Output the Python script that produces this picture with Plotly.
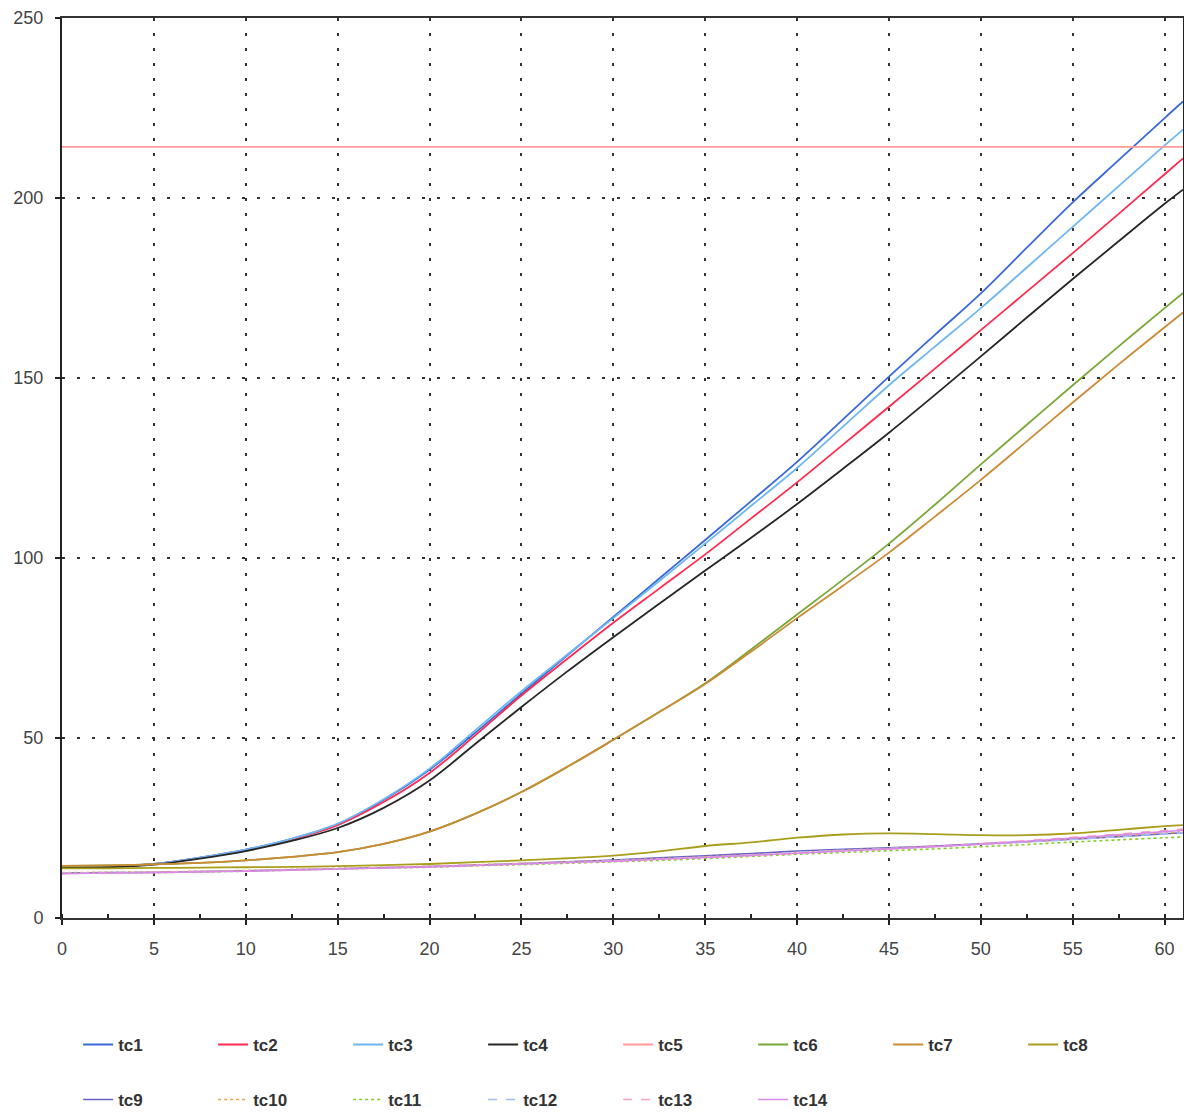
import plotly.graph_objects as go

# Time axis (samples every 2.5 units, last at 61)
x_vals = [0, 2.5, 5, 7.5, 10, 12.5, 15, 17.5, 20, 22.5, 25, 27.5, 30, 32.5,
          35, 37.5, 40, 42.5, 45, 47.5, 50, 52.5, 55, 57.5, 60, 61]

tc1 = [14, 14.2, 15, 16.8, 19, 22, 26, 32.8, 41.2, 51.5, 62.3, 73, 83.6, 94.3,
       105, 115.8, 126.7, 138.5, 150.4, 162, 173.5, 186.2, 198.8, 210.5, 222.2, 226.8]
tc2 = [14, 14.2, 15, 16.7, 18.9, 21.8, 25.8, 32.2, 40.3, 50.8, 61.8, 72, 82, 91.5,
       101, 111, 121, 131.5, 142, 152.6, 163.3, 174, 184.7, 195.6, 206.6, 211]
tc3 = [14, 14.2, 15, 16.8, 19, 22, 26.2, 33, 41.5, 52.2, 63, 73.2, 83.3, 93.6,
       104, 114.5, 125, 136.5, 148, 158.7, 169.4, 180.7, 192, 203.3, 214.6, 219]
tc4 = [14, 14.1, 14.8, 16.5, 18.6, 21.4, 25, 30.6, 38.2, 48.4, 58.6, 68.5, 78, 87.3,
       96.5, 105.6, 115, 124.8, 134.8, 145.3, 156, 166.8, 177.5, 188, 198.4, 202.3]
tc5 = [214.2, 214.2, 214.2, 214.2, 214.2, 214.2, 214.2, 214.2, 214.2, 214.2, 214.2, 214.2, 214.2, 214.2,
       214.2, 214.2, 214.2, 214.2, 214.2, 214.2, 214.2, 214.2, 214.2, 214.2, 214.2, 214.2]
tc6 = [14.5, 14.6, 14.9, 15.3, 16, 17, 18.3, 20.6, 24, 29, 35, 42, 49.5, 57.2,
       65.2, 74.6, 84.3, 94, 104, 114.8, 126, 137, 148, 158.8, 169.4, 173.6]
tc7 = [14.5, 14.6, 14.9, 15.3, 16, 17, 18.3, 20.6, 24, 29, 35, 42, 49.5, 57.2,
       65, 74, 83.3, 92.3, 101.5, 111.5, 121.7, 132.4, 143.2, 153.8, 164.1, 168.2]
tc8 = [13.8, 13.8, 13.9, 14, 14.1, 14.2, 14.4, 14.7, 15, 15.5, 16, 16.6, 17.3, 18.5,
       20, 21, 22.3, 23.2, 23.5, 23.3, 23, 23, 23.5, 24.5, 25.5, 25.8]
tc9 = [12.5, 12.6, 12.7, 12.9, 13.1, 13.4, 13.7, 14, 14.3, 14.7, 15.1, 15.6, 16.1, 16.7,
       17.3, 17.9, 18.6, 19.1, 19.5, 20, 20.6, 21.2, 21.9, 22.6, 23.4, 23.7]
tc10 = [12.6, 12.7, 12.8, 13, 13.2, 13.5, 13.8, 14.1, 14.4, 14.8, 15.2, 15.6, 16, 16.5,
        17, 17.6, 18.2, 18.8, 19.3, 19.9, 20.5, 21.2, 22, 22.8, 23.6, 23.9]
tc11 = [12.4, 12.5, 12.6, 12.8, 13, 13.3, 13.6, 13.9, 14.1, 14.5, 14.8, 15.2, 15.6, 16,
        16.5, 17.1, 17.7, 18.2, 18.7, 19.2, 19.8, 20.4, 21.1, 21.7, 22.3, 22.5]
tc12 = [12.5, 12.6, 12.7, 12.9, 13.1, 13.4, 13.7, 14, 14.3, 14.7, 15.1, 15.5, 15.9, 16.4,
        16.9, 17.5, 18.2, 18.8, 19.3, 19.8, 20.4, 21.1, 21.8, 22.6, 23.4, 23.7]
tc13 = [12.4, 12.5, 12.7, 12.9, 13.1, 13.4, 13.7, 14, 14.3, 14.7, 15, 15.4, 15.8, 16.3,
        16.8, 17.4, 18, 18.6, 19.2, 19.9, 20.7, 21.5, 22.4, 23.3, 24.3, 24.7]
tc14 = [12.3, 12.5, 12.6, 12.8, 13, 13.3, 13.6, 13.9, 14.2, 14.6, 15, 15.4, 15.8, 16.3,
        16.8, 17.4, 18, 18.6, 19.2, 19.8, 20.5, 21.3, 22.2, 23.1, 24, 24.3]

series_names = ["tc1", "tc2", "tc3", "tc4", "tc5", "tc6", "tc7",
                "tc8", "tc9", "tc10", "tc11", "tc12", "tc13", "tc14"]
series_values = [tc1, tc2, tc3, tc4, tc5, tc6, tc7,
                 tc8, tc9, tc10, tc11, tc12, tc13, tc14]

colors = ["#3a68d8", "#ff2a4e", "#6fb6f2", "#262626", "#ff9a9a", "#79a838", "#cc8a36",
          "#a99e1c", "#6a62c8", "#e9a448", "#86cc2a", "#a0bff0", "#ff9fbd", "#d98ae8"]
dashes = ["solid", "solid", "solid", "solid", "solid", "solid", "solid",
          "solid", "solid", "dot", "dot", "dash", "dash", "solid"]
widths = [1.8, 1.8, 1.8, 1.8, 1.8, 1.8, 1.8, 1.8, 1.6, 1.6, 1.6, 1.6, 1.6, 1.6]

fig = go.Figure()
for i, (name, vals) in enumerate(zip(series_names, series_values)):
    fig.add_trace(go.Scatter(
        x=x_vals, y=vals, name=name, mode="lines",
        line=dict(color=colors[i], width=widths[i], dash=dashes[i],
                  shape="spline", smoothing=1.0),
        legend="legend" if i < 8 else "legend2",
    ))

tick_font = dict(family="Liberation Sans, Arial, sans-serif", size=18, color="#444444")
legend_common = dict(
    orientation="h", xanchor="left", yanchor="middle",
    xref="container", yref="container",
    entrywidth=90, entrywidthmode="pixels",
    font=dict(family="Liberation Sans, Arial, sans-serif", size=17,
              color="#333333", weight="bold"),
    bgcolor="rgba(0,0,0,0)",
)

fig.update_layout(
    width=1184, height=1112,
    margin=dict(l=62, r=1, t=18, b=194, autoexpand=False),
    plot_bgcolor="white", paper_bgcolor="white",
    showlegend=True,
    legend=dict(x=0.066, y=0.0603, **legend_common),
    legend2=dict(x=0.066, y=0.0108, **legend_common),
    xaxis=dict(
        range=[0, 61], tickmode="array", tickvals=list(range(0, 61, 5)),
        ticks="outside", ticklen=5, tickcolor="#222", tickwidth=1.5,
        ticklabelstandoff=8,
        minor=dict(dtick=2.5, ticks="inside", ticklen=4, tickcolor="#222", showgrid=False),
        showline=True, linecolor="#333333", linewidth=2, mirror=True,
        showgrid=True, gridcolor="#333333", gridwidth=1.5, griddash="3px,12px",
        zeroline=False, tickfont=tick_font,
    ),
    yaxis=dict(
        range=[0, 250], tickmode="array", tickvals=[0, 50, 100, 150, 200, 250],
        ticks="outside", ticklen=5, tickcolor="#222", tickwidth=1.5,
        ticklabelstandoff=8,
        showline=True, linecolor="#222222", linewidth=2, mirror=True,
        showgrid=True, gridcolor="#333333", gridwidth=1.5, griddash="3px,12px",
        zeroline=False, tickfont=tick_font,
    ),
)

fig.write_html("out.html")
